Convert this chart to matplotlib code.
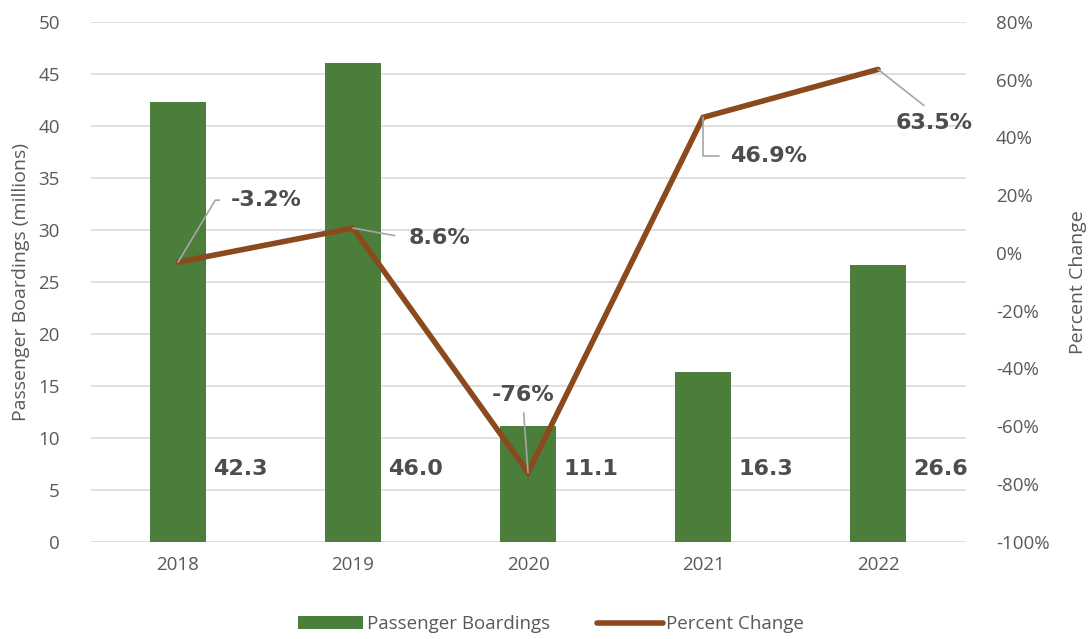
import matplotlib.pyplot as plt
import numpy as np
from matplotlib.ticker import FuncFormatter
from matplotlib.lines import Line2D
from matplotlib.patches import Patch

plt.rcParams['font.family'] = ['Open Sans', 'DejaVu Sans']

years = ['2018', '2019', '2020', '2021', '2022']
boardings = [42.3, 46.0, 11.1, 16.3, 26.6]
pct_change = [-3.2, 8.6, -76, 46.9, 63.5]
pct_labels = ['-3.2%', '8.6%', '-76%', '46.9%', '63.5%']

bar_color = '#4A7E3A'
line_color = '#8B4A1E'
tick_color = '#595959'
label_color = '#4D4D4D'

fig = plt.figure(figsize=(10.91, 6.39), dpi=100)
ax = fig.add_axes([0.083, 0.152, 0.802, 0.814])
ax2 = ax.twinx()

x = np.arange(len(years))
ax.bar(x, boardings, width=0.315, color=bar_color, zorder=2)
ax.set_xlim(-0.5, 4.5)
ax.set_ylim(0, 50)
ax.set_yticks(range(0, 51, 5))
ax.set_xticks(x)
ax.set_xticklabels(years)
ax.grid(axis='y', color='#D9D9D9', linewidth=1.2, zorder=0)
ax.set_axisbelow(True)
for s in ax.spines.values():
    s.set_visible(False)
for s in ax2.spines.values():
    s.set_visible(False)
ax.tick_params(axis='both', length=0, labelsize=13.5, colors=tick_color, pad=10)
ax.tick_params(axis='y', pad=22)
ax.set_ylabel('Passenger Boardings (millions)', fontsize=14, color=tick_color, labelpad=6)

# bar value labels, right of each bar
for i, v in enumerate(boardings):
    ax.text(i + 0.2, 7.0, f'{v:.1f}', ha='left', va='center', fontsize=16,
            fontweight='heavy', color=label_color, family='DejaVu Sans', zorder=5)

ax2.plot(x, pct_change, color=line_color, linewidth=4, solid_capstyle='round',
         solid_joinstyle='miter', zorder=3)
ax2.set_ylim(-100, 80)
ax2.set_yticks(range(-100, 81, 20))
ax2.yaxis.set_major_formatter(FuncFormatter(lambda v, p: f'{v:.0f}%'))
ax2.tick_params(axis='y', length=0, labelsize=13.5, colors=tick_color, pad=22)
ax2.set_ylabel('Percent Change', fontsize=14, color=tick_color, labelpad=14)

# line labels with leader lines (offsets in pixels)
offsets = [(88, 62), (86, -10), (-5, 78), (66, -39), (56, -54)]
relpos = [(0, 0.5), (0, 0.5), (0.5, 0), (0, 0.5), (0.5, 1)]
conn = ['angle,angleA=0,angleB=59,rad=0', 'arc3', 'arc3',
        'angle,angleA=0,angleB=90,rad=0', 'arc3']
shrink = [6, 8, 4, 6, 6]
for i, (val, lab) in enumerate(zip(pct_change, pct_labels)):
    ax2.annotate(lab, xy=(i, val), xytext=offsets[i], textcoords='offset pixels',
                 ha='center', va='center', fontsize=16, fontweight='heavy',
                 color=label_color, family='DejaVu Sans', zorder=6,
                 arrowprops=dict(arrowstyle='-', color='#A6A6A6', lw=1.2,
                                 relpos=relpos[i], connectionstyle=conn[i],
                                 shrinkA=shrink[i], shrinkB=0))

handles = [Patch(facecolor=bar_color, label='Passenger Boardings'),
           Line2D([0], [0], color=line_color, lw=4, solid_capstyle='round',
                  label='Percent Change')]
fig.legend(handles=handles, loc='center', bbox_to_anchor=(0.505, 0.023), ncol=2,
           frameon=False, fontsize=13.5, labelcolor=tick_color, handlelength=3.5,
           handletextpad=0.2, columnspacing=2.5)

fig.savefig('out.png', dpi=100)
